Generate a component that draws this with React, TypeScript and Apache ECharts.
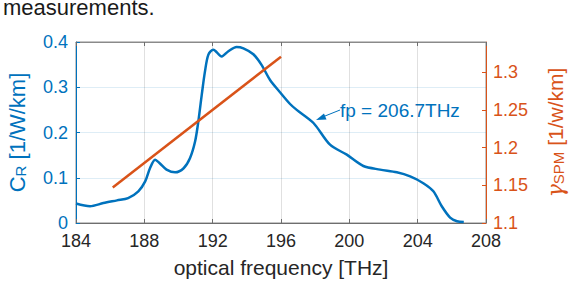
import React, { useEffect, useRef } from "react";
import * as echarts from "echarts";

const freq = [184.0, 184.82, 185.6, 186.4, 187.05, 187.65, 188.05, 188.33, 188.63, 188.9, 189.3, 189.8, 190.3, 190.67, 190.97, 191.16, 191.36, 191.55, 191.75, 192.04, 192.53, 192.9, 193.4, 193.8, 194.38, 194.87, 195.36, 195.94, 196.53, 196.92, 197.9, 198.87, 199.85, 200.82, 201.8, 202.78, 203.56, 204.33, 204.92, 205.41, 205.9, 206.3, 206.7];
const cr = [0.043, 0.037, 0.044, 0.05, 0.055, 0.07, 0.092, 0.121, 0.14, 0.132, 0.118, 0.112, 0.121, 0.143, 0.18, 0.224, 0.283, 0.335, 0.372, 0.383, 0.368, 0.379, 0.389, 0.386, 0.373, 0.349, 0.316, 0.289, 0.263, 0.25, 0.221, 0.173, 0.151, 0.126, 0.118, 0.112, 0.103, 0.088, 0.07, 0.037, 0.012, 0.004, 0.002];
const gammaFreq = [186.15, 196.0];
const gamma = [1.147, 1.3205];
const xTicks = { min: 184, max: 208, interval: 4 };
const leftTicks = { min: 0, max: 0.4, interval: 0.1 };
const rightTickValues = [1.1, 1.15, 1.2, 1.25, 1.3];
const rightRange = { min: 1.1, max: 1.34 };

const BLUE = "#0072BD";
const ORANGE = "#D95319";
const FONT = "Liberation Sans, Arial, sans-serif";

export default function App() {
  const ref = useRef<HTMLDivElement>(null);
  useEffect(() => {
    if (!ref.current) return;
    const chart = echarts.init(ref.current, null, { renderer: "svg" });
    chart.setOption({
      animation: false,
      textStyle: { fontFamily: FONT },
      grid: {
        left: 76,
        right: 84,
        top: 42,
        bottom: 79,
        containLabel: false,
        outerBoundsMode: "none",
        show: true,
        borderColor: "#8a8a8a",
        borderWidth: 1,
      },
      xAxis: [
        {
          type: "value",
          position: "bottom",
          ...xTicks,
          axisLine: { lineStyle: { color: "#6e6e6e", width: 1 } },
          axisTick: { inside: true, length: 4, lineStyle: { color: "#6e6e6e" } },
          axisLabel: { fontSize: 18, color: "#262626", margin: 9, fontFamily: FONT },
          splitLine: { show: true, lineStyle: { color: "rgba(38,38,38,0.14)", width: 1 } },
          name: "optical frequency [THz]",
          nameLocation: "middle",
          nameGap: 34,
          nameTextStyle: { fontSize: 21, color: "#262626", fontFamily: FONT },
        },
        {
          type: "value",
          position: "top",
          ...xTicks,
          axisLine: { lineStyle: { color: "#8a8a8a", width: 1 } },
          axisTick: { inside: true, length: 4, lineStyle: { color: "#6e6e6e" } },
          axisLabel: { show: false },
          splitLine: { show: false },
        },
      ],
      yAxis: [
        {
          type: "value",
          position: "left",
          ...leftTicks,
          axisLine: { show: true, lineStyle: { color: BLUE, width: 1 } },
          axisTick: { show: true, inside: true, length: 4, lineStyle: { color: BLUE } },
          axisLabel: { fontSize: 18, color: BLUE, margin: 8, fontFamily: FONT },
          splitLine: { show: true, lineStyle: { color: "rgba(0,114,189,0.13)", width: 1 } },
          name: "{a|C}{b|R}{a| [1/W/km]}",
          nameLocation: "middle",
          nameRotate: 90,
          nameGap: 48,
          nameTextStyle: {
            color: BLUE,
            rich: {
              a: { fontSize: 22, lineHeight: 22, verticalAlign: "top", color: BLUE, fontFamily: FONT },
              b: { fontSize: 15, lineHeight: 15, padding: [11, 0, 0, 0], verticalAlign: "bottom", color: BLUE, fontFamily: FONT },
            },
          },
        },
        {
          type: "value",
          position: "right",
          ...rightRange,
          axisLine: { show: true, lineStyle: { color: ORANGE, width: 1 } },
          axisTick: { show: true, inside: true, length: 4, lineStyle: { color: ORANGE }, customValues: rightTickValues },
          axisLabel: { fontSize: 18, color: ORANGE, margin: 7, fontFamily: FONT, customValues: rightTickValues },
          splitLine: { show: false },
          name: "{g|γ}{b|SPM}{a| [1/w/km]}",
          nameLocation: "middle",
          nameRotate: 90,
          nameGap: 57,
          nameTextStyle: {
            color: ORANGE,
            rich: {
              a: { fontSize: 21, lineHeight: 21, verticalAlign: "top", color: ORANGE, fontFamily: FONT },
              g: { fontSize: 22, lineHeight: 21, verticalAlign: "top", color: ORANGE, fontFamily: "DejaVu Serif, serif", fontStyle: "italic" },
              b: { fontSize: 15, lineHeight: 15, padding: [12, 0, 0, 0], verticalAlign: "bottom", color: ORANGE, fontFamily: FONT },
            },
          },
        },
      ],
      series: [
        {
          type: "line",
          xAxisIndex: 0,
          yAxisIndex: 0,
          data: freq.map((f, i) => [f, cr[i]]),
          showSymbol: false,
          smooth: 0.3,
          lineStyle: { color: BLUE, width: 2.5 },
          z: 3,
        },
        {
          type: "line",
          xAxisIndex: 0,
          yAxisIndex: 1,
          data: gammaFreq.map((f, i) => [f, gamma[i]]),
          showSymbol: false,
          lineStyle: { color: ORANGE, width: 2.5 },
          z: 4,
        },
      ],
      graphic: [
        {
          type: "text",
          left: 3,
          top: -4,
          style: { text: "measurements.", fontSize: 22, fill: "#1a1a1a", fontFamily: FONT },
        },
        {
          type: "text",
          x: 3,
          y: 299,
          style: { text: "Fig. 3.  Blue: Raman gain coefficient measured, red: nonlinear coefficient", fontSize: 22, fill: "#333", fontFamily: FONT, verticalAlign: "top" },
        },
        {
          type: "text",
          left: 340,
          top: 101,
          style: { text: "fp = 206.7THz", fontSize: 19, fill: BLUE, fontFamily: FONT },
        },
        {
          type: "line",
          shape: { x1: 340, y1: 110, x2: 320, y2: 118 },
          style: { stroke: BLUE, lineWidth: 1 },
        },
        {
          type: "polygon",
          shape: { points: [[316, 120], [324, 113.5], [326.5, 119.5]] },
          style: { fill: BLUE },
        },
      ],
    });
    return () => chart.dispose();
  }, []);
  return (
    <div
      ref={ref}
      style={{ position: "fixed", left: 0, top: 0, width: 570, height: 302, background: "#fff" }}
    />
  );
}
